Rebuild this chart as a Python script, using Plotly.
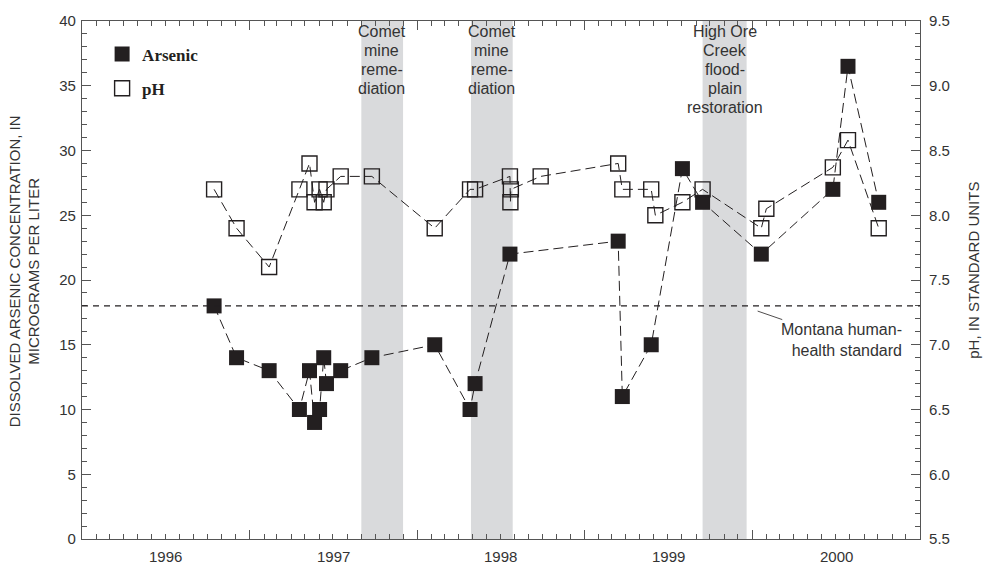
import plotly.graph_objects as go

# ---- data ----
arsenic_dates = ["1996-10-15", "1996-12-03", "1997-02-12", "1997-04-19", "1997-05-11",
                 "1997-05-22", "1997-06-02", "1997-06-11", "1997-06-17", "1997-07-18",
                 "1997-09-24", "1998-02-08", "1998-04-26", "1998-05-07", "1998-07-22",
                 "1999-03-15", "1999-03-24", "1999-05-26", "1999-08-02", "1999-09-15",
                 "2000-01-21", "2000-06-25", "2000-07-28", "2000-10-03"]
arsenic_values = [18, 14, 13, 10, 13, 9, 10, 14, 12, 13,
                  14, 15, 10, 12, 22, 23, 11, 15, 28.6, 26,
                  22, 27, 36.5, 26]

ph_dates = ["1996-10-15", "1996-12-03", "1997-02-12", "1997-04-19", "1997-05-11",
            "1997-05-22", "1997-06-02", "1997-06-11", "1997-06-17", "1997-07-18",
            "1997-09-24", "1998-02-08", "1998-04-26", "1998-05-07", "1998-07-22",
            "1998-07-23", "1998-07-24", "1998-09-27", "1999-03-15", "1999-03-24",
            "1999-05-26", "1999-06-04", "1999-08-02", "1999-09-15", "2000-01-21",
            "2000-02-01", "2000-06-25", "2000-07-28", "2000-10-03"]
ph_values = [8.2, 7.9, 7.6, 8.2, 8.4, 8.1, 8.2, 8.1, 8.2, 8.3,
             8.3, 7.9, 8.2, 8.2, 8.3, 8.1, 8.2, 8.3, 8.4, 8.2,
             8.2, 8.0, 8.1, 8.2, 7.9, 8.05, 8.37, 8.58, 7.9]

standard_value = 18

band_starts = ["1997-09-01", "1998-04-28", "1999-09-15"]
band_ends = ["1997-12-01", "1998-07-28", "1999-12-20"]
band_labels = [["Comet", "mine", "reme-", "diation"],
               ["Comet", "mine", "reme-", "diation"],
               ["High Ore", "Creek", "flood-", "plain", "restoration"]]
band_centers = ["1997-10-16", "1998-06-12", "1999-11-02"]

year_labels = ["1996", "1997", "1998", "1999", "2000"]
year_label_pos = ["1996-07-02", "1997-07-02", "1998-07-02", "1999-07-02", "2000-07-02"]
year_ticks = ["1996-01-01", "1997-01-01", "1998-01-01", "1999-01-01", "2000-01-01", "2001-01-01"]

INK = "#231f20"
TXT = "#333333"
AXC = "#555555"
SANS = "Liberation Sans, Arial, sans-serif"

fig = go.Figure()

fig.add_trace(go.Scatter(
    x=ph_dates, y=ph_values, yaxis="y2", name="pH", showlegend=False,
    mode="lines+markers",
    line=dict(color=INK, width=1, dash="10px,5px"),
    marker=dict(symbol="square-open", size=15, color=INK, line=dict(width=1.4, color=INK)),
))
fig.add_trace(go.Scatter(
    x=arsenic_dates, y=arsenic_values, name="Arsenic", showlegend=False,
    mode="lines+markers",
    line=dict(color=INK, width=1, dash="10px,5px"),
    marker=dict(symbol="square", size=15, color=INK, line=dict(width=0)),
))
# legend entries (marker only, as in the original key)
fig.add_trace(go.Scatter(
    x=[None], y=[None], name="Arsenic", legendgroup="as", legendrank=1, mode="markers",
    marker=dict(symbol="square", size=15, color=INK, line=dict(width=0)),
))
fig.add_trace(go.Scatter(
    x=[None], y=[None], yaxis="y2", name="pH", legendgroup="ph", legendrank=2, mode="markers",
    marker=dict(symbol="square-open", size=15, color=INK, line=dict(width=1.4, color=INK)),
))

shapes = []
for s, e in zip(band_starts, band_ends):
    shapes.append(dict(type="rect", xref="x", yref="paper", x0=s, x1=e, y0=0, y1=1,
                       fillcolor="#d9dadc", line=dict(width=0), layer="below"))
shapes.append(dict(type="line", xref="paper", yref="y", x0=0, x1=1,
                   y0=standard_value, y1=standard_value,
                   line=dict(color=INK, width=1.2, dash="6px,5px")))

annotations = []
for c, lines in zip(band_centers, band_labels):
    for i, t in enumerate(lines):
        annotations.append(dict(x=c, y=1, xref="x", yref="paper", yanchor="middle",
                                xanchor="center", yshift=-10 - 19 * i, text=t,
                                showarrow=False,
                                font=dict(family=SANS, size=16, color=TXT)))
for p, t in zip(year_label_pos, year_labels):
    annotations.append(dict(x=p, y=0, xref="x", yref="paper", yanchor="top", xanchor="center",
                            yshift=-7, text=t, showarrow=False,
                            font=dict(family=SANS, size=15, color=TXT)))
annotations.append(dict(x="2000-01-13", y=17.6, xref="x", yref="y",
                        text="Montana human-<br>health standard", align="right",
                        showarrow=True, arrowhead=0, arrowwidth=0.8, arrowcolor=INK,
                        ax=84, ay=29, standoff=0,
                        font=dict(family=SANS, size=16, color=TXT)))
annotations.append(dict(x=-0.069, y=0.517, xref="paper", yref="paper", textangle=-90,
                        xanchor="center", yanchor="middle", showarrow=False,
                        text="DISSOLVED ARSENIC CONCENTRATION, IN<br>MICROGRAMS PER LITER",
                        font=dict(family=SANS, size=15, color=TXT)))
annotations.append(dict(x=1.064, y=0.519, xref="paper", yref="paper", textangle=-90,
                        xanchor="center", yanchor="middle", showarrow=False,
                        text="pH, IN STANDARD UNITS",
                        font=dict(family=SANS, size=15, color=TXT)))

fig.update_layout(
    width=986, height=566,
    margin=dict(l=82, r=66, t=15, b=27),
    plot_bgcolor="white", paper_bgcolor="white",
    font=dict(family=SANS, size=15, color=TXT),
    showlegend=True,
    legend=dict(x=0.024, y=0.97, xanchor="left", yanchor="top",
                bgcolor="rgba(0,0,0,0)", traceorder="grouped", tracegroupgap=9,
                font=dict(family="Liberation Serif, Times New Roman, serif", size=17,
                          color=INK, weight="bold")),
    xaxis=dict(type="date", range=["1996-01-01", "2001-01-01"],
               tickvals=year_ticks, showticklabels=False,
               ticks="inside", ticklen=9, tickwidth=1, tickcolor=AXC,
               minor=dict(dtick="M1", tick0="1996-01-01", ticks="inside", ticklen=5,
                          tickwidth=1, tickcolor=AXC, showgrid=False),
               showline=True, linecolor=AXC, linewidth=1.2, mirror="ticks",
               showgrid=False, zeroline=False),
    yaxis=dict(range=[0, 40], dtick=5, tick0=0, ticks="inside", ticklen=9,
               tickwidth=1, tickcolor=AXC, ticklabelstandoff=2,
               minor=dict(dtick=1, ticks="inside", ticklen=5, tickwidth=1, tickcolor=AXC,
                          showgrid=False),
               showline=True, linecolor=AXC, linewidth=1.2, showgrid=False, zeroline=False,
               tickfont=dict(family=SANS, size=15, color=TXT)),
    yaxis2=dict(range=[5.5, 9.5], dtick=0.5, tick0=5.5, tickformat=".1f",
                overlaying="y", side="right", ticks="inside", ticklen=9,
                tickwidth=1, tickcolor=AXC, ticklabelstandoff=5,
                minor=dict(dtick=0.1, ticks="inside", ticklen=5, tickwidth=1, tickcolor=AXC,
                           showgrid=False),
                showline=True, linecolor=AXC, linewidth=1.2, showgrid=False, zeroline=False,
                tickfont=dict(family=SANS, size=15, color=TXT)),
    shapes=shapes,
    annotations=annotations,
)

fig.write_html("out.html")
